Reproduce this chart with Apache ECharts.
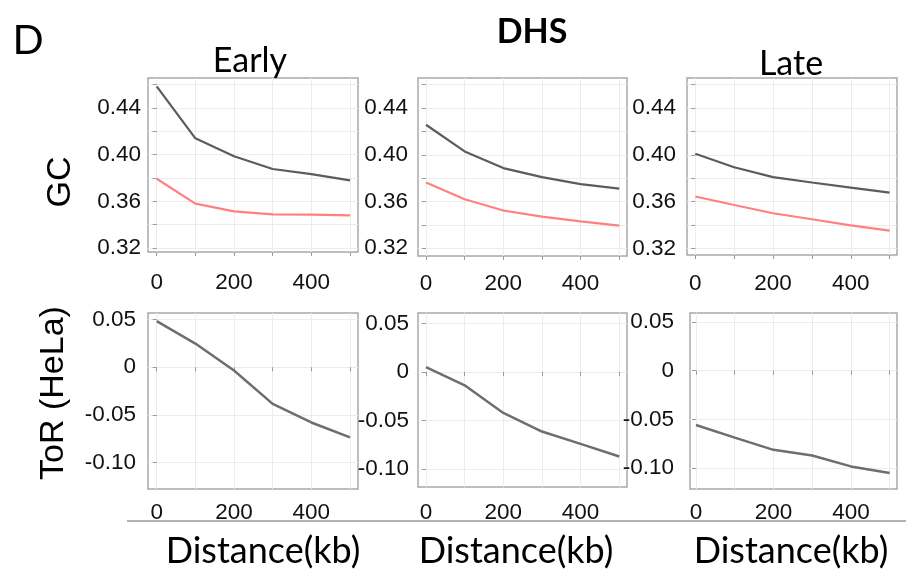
<!DOCTYPE html>
<html>
<head>
<meta charset="utf-8">
<style>
  html, body { margin: 0; padding: 0; background: #ffffff; }
  #chart { width: 906px; height: 574px; }
</style>
<script src="https://cdn.jsdelivr.net/npm/echarts@6/dist/echarts.min.js"></script>
</head>
<body>
<div id="chart"></div>
<script>
// Distance from the feature, in kb
const distances = [0, 100, 200, 300, 400, 500];

// GC content around early / DHS / late feature sets (dark) and matched background (red)
const gcEarly      = [0.4586, 0.414, 0.3986, 0.3877, 0.3834, 0.378];
const gcEarlyBg    = [0.3794, 0.358, 0.3514, 0.3489, 0.3486, 0.348];
const gcDHS        = [0.4257, 0.4029, 0.3886, 0.3809, 0.3749, 0.3711];
const gcDHSBg      = [0.3763, 0.362, 0.3523, 0.3471, 0.3431, 0.3394];
const gcLate       = [0.4009, 0.3894, 0.3809, 0.3763, 0.372, 0.3677];
const gcLateBg     = [0.3643, 0.3571, 0.35, 0.3449, 0.3397, 0.3351];

// Timing of replication in HeLa
const torEarly     = [0.0483, 0.0248, -0.0035, -0.0385, -0.058, -0.0737];
const torDHS       = [0.0051, -0.0137, -0.0421, -0.0613, -0.074, -0.087];
const torLate      = [-0.0558, -0.0687, -0.0813, -0.0871, -0.0983, -0.1051];

// Tick positions and labels
const xTicks   = [0, 100, 200, 300, 400, 500];
const xLabels  = [0, 200, 400];
const gcTicks  = [0.32, 0.34, 0.36, 0.38, 0.40, 0.42, 0.44, 0.46];
const gcLabels = [0.32, 0.36, 0.40, 0.44];
const torTicks = [-0.10, -0.05, 0, 0.05];
const torLabels = [-0.10, -0.05, 0, 0.05];

const panels = [
  { rect: { left: 148, top: 78, width: 210, height: 174 }, x: [-22.5, 520.7], y: [0.3166, 0.4657], kind: 'gc', lines: [gcEarly, gcEarlyBg], xLabelMargin: 19, yLabelMargin: 7 },
  { rect: { left: 418, top: 78, width: 209, height: 178 }, x: [-20.7, 520], y: [0.3134, 0.4657], kind: 'gc', lines: [gcDHS, gcDHSBg], xLabelMargin: 16, yLabelMargin: 10 },
  { rect: { left: 687, top: 78, width: 210, height: 177 }, x: [-21.4, 519], y: [0.3143, 0.4657], kind: 'gc', lines: [gcLate, gcLateBg], xLabelMargin: 17, yLabelMargin: 11 },
  { rect: { left: 148, top: 313, width: 210, height: 176 }, x: [-22.5, 520.7], y: [-0.1278, 0.0569], kind: 'tor', lines: [torEarly], xLabelMargin: 12, yLabelMargin: 12 },
  { rect: { left: 418, top: 313, width: 209, height: 174 }, x: [-20.7, 520], y: [-0.1185, 0.0609], kind: 'tor', lines: [torDHS], xLabelMargin: 14, yLabelMargin: 9 },
  { rect: { left: 690, top: 313, width: 207, height: 176 }, x: [-15.5, 519], y: [-0.1215, 0.0592], kind: 'tor', lines: [torLate], xLabelMargin: 12, yLabelMargin: 16 }
];

const tickFont = { fontFamily: '"Liberation Sans", Arial, sans-serif', fontSize: 22.5, color: '#111' };
const lineColors = ['#5c5c5c', '#ff8080'];

const grid = [], xAxis = [], yAxis = [], series = [];
panels.forEach((p, i) => {
  grid.push(Object.assign({
    show: true, borderColor: '#a8a8a8', borderWidth: 1.5,
    backgroundColor: '#ffffff', containLabel: false, outerBoundsMode: 'none'
  }, p.rect));
  xAxis.push({
    type: 'value', gridIndex: i, min: p.x[0], max: p.x[1],
    axisLine: { show: false },
    axisTick: { show: true, length: 4, lineStyle: { color: '#999' }, customValues: xTicks },
    axisLabel: Object.assign({ margin: p.xLabelMargin, customValues: xLabels, formatter: v => String(v) }, tickFont),
    splitLine: { show: true, lineStyle: { color: '#ececec', width: 1 } }
  });
  const isGC = p.kind === 'gc';
  yAxis.push({
    type: 'value', gridIndex: i, min: p.y[0], max: p.y[1],
    axisLine: { show: false },
    axisTick: { show: true, length: 4, lineStyle: { color: '#999' }, customValues: isGC ? gcTicks : torTicks },
    axisLabel: Object.assign({
      margin: p.yLabelMargin,
      customValues: isGC ? gcLabels : torLabels,
      formatter: v => (Math.abs(v) < 1e-9 ? '0' : v.toFixed(2))
    }, tickFont),
    splitLine: { show: true, lineStyle: { color: '#ececec', width: 1 } }
  });
  p.lines.forEach((vals, k) => {
    series.push({
      type: 'line', xAxisIndex: i, yAxisIndex: i,
      data: distances.map((d, j) => [d, vals[j]]),
      symbol: 'none', smooth: false,
      lineStyle: { color: isGC ? lineColors[k] : '#6e6e6e', width: isGC ? 2.2 : 2.5 },
      silent: true
    });
  });
});

const calib = 'Lato, "Open Sans", sans-serif';
const graphic = [
  { type: 'text', x: 28, y: 41, style: { text: 'D', font: '41px ' + calib, fill: '#000', textAlign: 'center', textVerticalAlign: 'middle' } },
  { type: 'text', x: 532, y: 32, style: { text: 'DHS', font: 'bold 34px ' + calib, fill: '#000', textAlign: 'center', textVerticalAlign: 'middle' } },
  { type: 'text', x: 250, y: 61, style: { text: 'Early', font: '34px ' + calib, fill: '#000', textAlign: 'center', textVerticalAlign: 'middle' } },
  { type: 'text', x: 791, y: 64, style: { text: 'Late', font: '34px ' + calib, fill: '#000', textAlign: 'center', textVerticalAlign: 'middle' } },
  { type: 'text', x: 61, y: 182, rotation: Math.PI / 2, style: { text: 'GC', font: '34px "Liberation Sans", Arial, sans-serif', fill: '#000', textAlign: 'center', textVerticalAlign: 'middle' } },
  { type: 'text', x: 54, y: 393, rotation: Math.PI / 2, style: { text: 'ToR (HeLa)', font: '34px "Liberation Sans", Arial, sans-serif', fill: '#000', textAlign: 'center', textVerticalAlign: 'middle' } },
  { type: 'line', shape: { x1: 127, y1: 521, x2: 906, y2: 521 }, style: { stroke: '#9a9a9a', lineWidth: 1.5 } },
  { type: 'text', x: 263, y: 551, style: { text: 'Distance(kb)', font: '36px ' + calib, fill: '#000', textAlign: 'center', textVerticalAlign: 'middle' } },
  { type: 'text', x: 516, y: 551, style: { text: 'Distance(kb)', font: '36px ' + calib, fill: '#000', textAlign: 'center', textVerticalAlign: 'middle' } },
  { type: 'text', x: 791, y: 551, style: { text: 'Distance(kb)', font: '36px ' + calib, fill: '#000', textAlign: 'center', textVerticalAlign: 'middle' } }
];

const chart = echarts.init(document.getElementById('chart'), null, { renderer: 'canvas' });
chart.setOption({
  animation: false,
  backgroundColor: '#ffffff',
  grid, xAxis, yAxis, series, graphic
});
</script>
</body>
</html>
